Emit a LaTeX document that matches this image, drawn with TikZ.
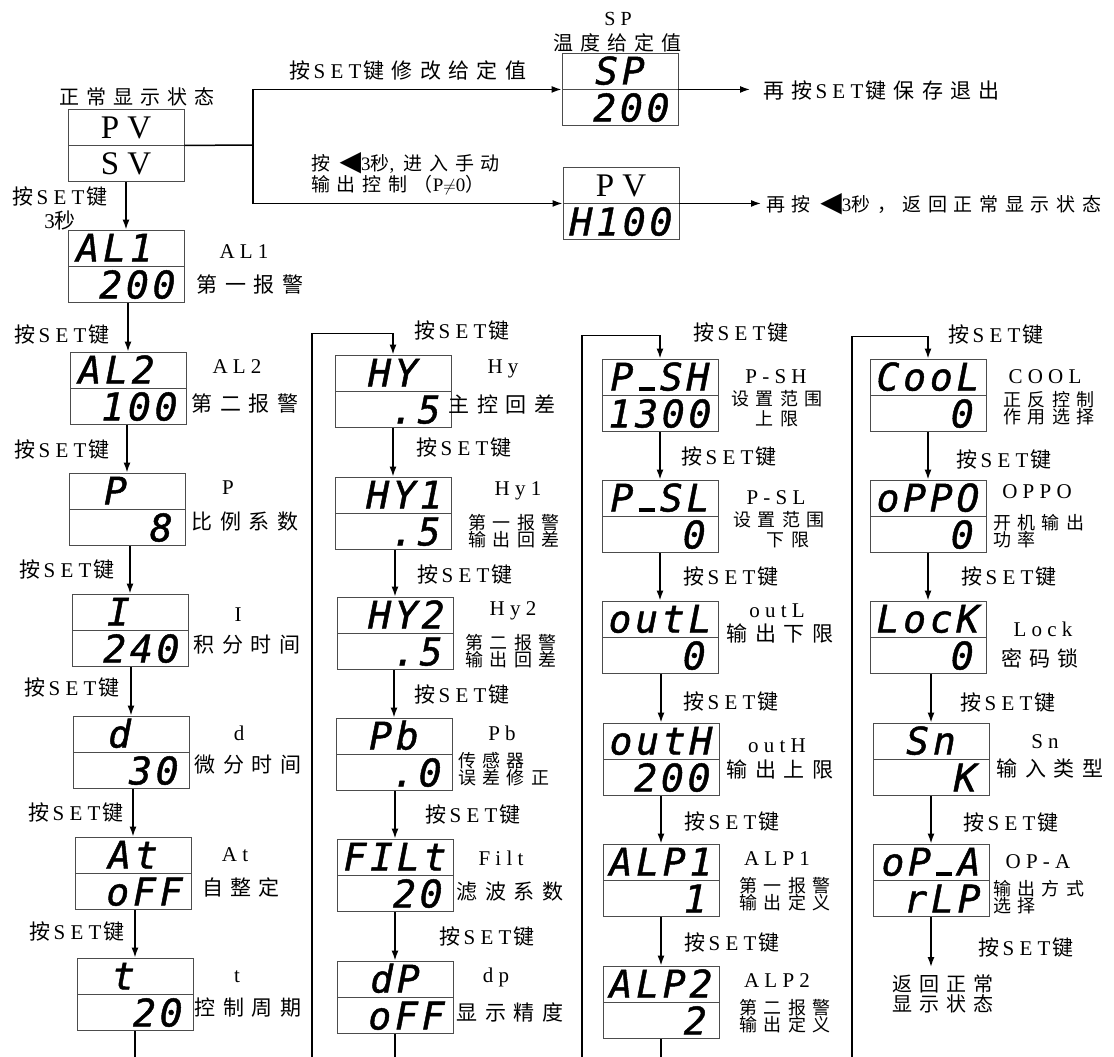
\documentclass[tikz,border=0pt]{standalone}
\usepackage{fontspec}
\setmainfont{Liberation Serif}[LetterSpace=25]
\newfontfamily\cjk{Noto Sans CJK SC}[LetterSpace=35]
\newfontfamily\segfont{DejaVu Sans Mono}[LetterSpace=10,FakeBold=1.2]
\newfontfamily\symfont{DejaVu Sans}
\usetikzlibrary{arrows.meta}
\newcommand\blank{\phantom{0}}
\newcommand\segbar{\makebox[0.7em][c]{\rule{0.42em}{0.1em}}}
\newcommand\tri{{\symfont\fontsize{28}{28}\selectfont ◀}}
\newcommand\anset{{\cjk 按}\hspace{3pt}SET\hspace{2pt}{\cjk 键}}
\tikzset{
  lcd/.style={draw=black!70, line width=0.9pt, minimum width=116pt, minimum height=36pt,
    inner sep=0pt, text height=27pt, text depth=0pt,
    font=\segfont\fontsize{38}{38}\selectfont\itshape},
  lcdtxt/.style={lcd, text height=22pt, font=\fontsize{33}{33}\selectfont},
  key/.style={font=\fontsize{21}{24}\selectfont, inner sep=1pt},
  lbl/.style={font=\fontsize{21}{22}\selectfont, inner sep=0pt},
  small/.style={font=\fontsize{18}{17}\selectfont, inner sep=0pt, align=center},
  wire/.style={line width=1.5pt}
}
\begin{document}
\begin{tikzpicture}[x=1pt,y=-1pt,>={Latex[length=10pt,width=7pt]}]
\useasboundingbox (0,0) rectangle (1114,1057);

% normal display and the two short paths
\node[lcdtxt] (nrm) at (126,127) {PV};
\node[lcdtxt,anchor=north] (nrmv) at (nrm.south) {SV};
\node[lbl,font=\fontsize{20}{22}\selectfont] (tnrm) at (137,97) {\cjk 正常显示状态};
\coordinate (fork) at (253,145);
\draw[wire] (nrm.south east) -- (fork);

\node[lcd] (sp) at (620,71) {\blank SP\blank};
\node[lcd,anchor=north] (spv) at (sp.south) {\blank200};
\node[lbl,text height=14pt,text depth=0pt,font=\fontsize{20}{20}\selectfont] (tsp) at (618,19) {SP};
\node[lbl,font=\fontsize{20}{20}\selectfont,text height=16pt,text depth=2pt] (tspd) at (617,44) {\cjk 温度给定值};
\node[lbl] (tmod) at (408,70) {{\cjk 按}\hspace{3pt}SET\hspace{2pt}{\cjk 键修改给定值}};
\node[lbl,anchor=west] (tsave) at (763,91) {{\cjk 再按}\hspace{3pt}SET\hspace{2pt}{\cjk 键保存退出}};
\draw[wire,->] (fork) |- (sp.south west);
\draw[wire,->,shorten >=13pt] (sp.south east) -- (sp.south east -| tsave.west);

\node[lcdtxt] (man) at (621,185) {PV};
\node[lcd,anchor=north] (manv) at (man.south) {H100};
\node[small,align=left,anchor=west,font=\fontsize{19}{17}\selectfont] (tman) at (311,174)
  {{\cjk 按}\ \tri 3{\cjk 秒}, {\cjk 进入手动}\\{\cjk 输出控制（}P$\neq$0{\cjk ）}};
\node[lbl,anchor=west,font=\fontsize{19}{19}\selectfont] (tback) at (766,204)
  {{\cjk 再按}\ \tri 3{\cjk 秒，返回正常显示状态}};
\draw[wire,->] (fork) |- (man.south west);
\draw[wire,->,shorten >=5pt] (man.south east) -- (man.south east -| tback.west);

% column 1
\node[key,align=center] (k0) at (60,208) {\anset\\3{\cjk 秒}};
\node[lcd] (al1) at (126,248) {AL1\blank};
\node[lcd,anchor=north] (al1v) at (al1.south) {\blank200};
\node[lbl] (al1n) at (244,252) {AL1};
\node[lbl] (al1d) at (250,284) {\cjk 第一报警};
\node[lcd] (al2) at (128,370) {AL2\blank};
\node[lcd,anchor=north] (al2v) at (al2.south) {\blank100};
\node[lbl] (al2n) at (237,367) {AL2};
\node[lbl] (al2d) at (245,403) {\cjk 第二报警};
\node[lcd] (p) at (127,491) {\blank P\blank\blank};
\node[lcd,anchor=north] (pv) at (p.south) {\blank\blank\blank8};
\node[lbl] (pn) at (228,488) {P};
\node[lbl] (pd) at (245,522) {\cjk 比例系数};
\node[lcd] (i) at (130,612) {\blank I\blank\blank};
\node[lcd,anchor=north] (iv) at (i.south) {\blank240};
\node[lbl] (in) at (238,615) {I};
\node[lbl] (id) at (247,645) {\cjk 积分时间};
\node[lcd] (d) at (131,734) {\blank d\blank\blank};
\node[lcd,anchor=north] (dv) at (d.south) {\blank\blank30};
\node[lbl] (dn) at (239,733) {d};
\node[lbl] (dd) at (248,765) {\cjk 微分时间};
\node[lcd] (at) at (133,855) {\blank At\blank};
\node[lcd,anchor=north] (atv) at (at.south) {\blank oFF};
\node[lbl] (atn) at (235,855) {At};
\node[lbl] (atd) at (241,887) {\cjk 自整定};
\node[lcd] (t) at (135,976) {\blank t\blank\blank};
\node[lcd,anchor=north] (tv) at (t.south) {\blank\blank20};
\node[lbl] (tn) at (237,977) {t};
\node[lbl] (td) at (248,1008) {\cjk 控制周期};
\node[key] (k1) at (62,335) {\anset};
\node[key] (k2) at (62,450) {\anset};
\node[key] (k3) at (67,570) {\anset};
\node[key] (k4) at (72,688) {\anset};
\node[key] (k5) at (76,813) {\anset};
\node[key] (k6) at (77,932) {\anset};
\draw[wire,->] (nrmv.south) -- (nrmv.south |- al1.north);
\draw[wire,->] (al2.north |- al1v.south) -- (al2.north);
\draw[wire,->] (p.north |- al2v.south) -- (p.north);
\draw[wire,->] (i.north |- pv.south) -- (i.north);
\draw[wire,->] (d.north |- iv.south) -- (d.north);
\draw[wire,->] (at.north |- dv.south) -- (at.north);
\draw[wire,->] (t.north |- atv.south) -- (t.north);
\coordinate (e1) at (135,1057);
\draw[wire] (tv.south) -- (e1);

% column 2
\node[lcd] (hy) at (393,373) {\blank HY\blank};
\node[lcd,anchor=north] (hyv) at (hy.south) {\blank\blank.5};
\node[lbl] (hyn) at (503,369) {Hy};
\node[lbl] (hyd) at (502,404) {\cjk 主控回差};
\node[lcd] (hy1) at (393,495) {\blank HY1};
\node[lcd,anchor=north] (hy1v) at (hy1.south) {\blank\blank.5};
\node[lbl] (hy1n) at (518,491) {Hy1};
\node[small] (hy1d) at (514,531) {\cjk 第一报警\\\cjk 输出回差};
\node[lcd] (hy2) at (395,615) {\blank HY2};
\node[lcd,anchor=north] (hy2v) at (hy2.south) {\blank\blank.5};
\node[lbl] (hy2n) at (513,611) {Hy2};
\node[small] (hy2d) at (511,651) {\cjk 第二报警\\\cjk 输出回差};
\node[lcd] (pb) at (394,736) {\blank Pb\blank};
\node[lcd,anchor=north] (pbv) at (pb.south) {\blank\blank.0};
\node[lbl] (pbn) at (502,733) {Pb};
\node[small,align=left,anchor=west] (pbd) at (458,769) {\cjk 传感器\\\cjk 误差修正};
\node[lcd] (filt) at (395,857) {FILt};
\node[lcd,anchor=north] (filtv) at (filt.south) {\blank\blank20};
\node[lbl] (filtn) at (501,858) {Filt};
\node[lbl] (filtd) at (510,892) {\cjk 滤波系数};
\node[lcd] (dp) at (395,979) {\blank dP\blank};
\node[lcd,anchor=north] (dpv) at (dp.south) {\blank oFF};
\node[lbl] (dpn) at (496,977) {dp};
\node[lbl] (dpd) at (510,1012) {\cjk 显示精度};
\node[key] (k7) at (462,331) {\anset};
\node[key] (k8) at (464,448) {\anset};
\node[key] (k9) at (465,575) {\anset};
\node[key] (k10) at (462,695) {\anset};
\node[key] (k11) at (473,815) {\anset};
\node[key] (k12) at (487,937) {\anset};
\coordinate (l2) at (312,1057);
\draw[wire,->] (l2) |- ([yshift=21pt]hy.north) -- (hy.north);
\draw[wire,->] (hy1.north |- hyv.south) -- (hy1.north);
\draw[wire,->] (hy2.north |- hy1v.south) -- (hy2.north);
\draw[wire,->] (pb.north |- hy2v.south) -- (pb.north);
\draw[wire,->] (filt.north |- pbv.south) -- (filt.north);
\draw[wire,->] (dp.north |- filtv.south) -- (dp.north);
\coordinate (e2) at (395,1057);
\draw[wire] (dpv.south) -- (e2);

% column 3
\node[lcd] (psh) at (660,377) {P\segbar SH};
\node[lcd,anchor=north] (pshv) at (psh.south) {1300};
\node[lbl] (pshn) at (776,377) {P-SH};
\node[small] (pshd) at (777,409) {\cjk 设置范围\\[3pt]\cjk 上限};
\node[lcd] (psl) at (660,498) {P\segbar SL};
\node[lcd,anchor=north] (pslv) at (psl.south) {\blank\blank\blank0};
\node[lbl] (psln) at (776,498) {P-SL};
\node[small] (psld) at (779,530) {\cjk 设置范围\\[3pt]\hspace{18pt}\cjk 下限};
\node[lcd] (outl) at (660,619) {outL};
\node[lcd,anchor=north] (outlv) at (outl.south) {\blank\blank\blank0};
\node[lbl] (outln) at (777,611) {outL};
\node[lbl] (outld) at (780,633) {\cjk 输出下限};
\node[lcd] (outh) at (661,741) {outH};
\node[lcd,anchor=north] (outhv) at (outh.south) {\blank200};
\node[lbl] (outhn) at (777,746) {outH};
\node[lbl] (outhd) at (780,769) {\cjk 输出上限};
\node[lcd] (alp1) at (661,862) {ALP1};
\node[lcd,anchor=north] (alp1v) at (alp1.south) {\blank\blank\blank1};
\node[lbl] (alp1n) at (777,859) {ALP1};
\node[small] (alp1d) at (785,894) {\cjk 第一报警\\\cjk 输出定义};
\node[lcd] (alp2) at (661,984) {ALP2};
\node[lcd,anchor=north] (alp2v) at (alp2.south) {\blank\blank\blank2};
\node[lbl] (alp2n) at (777,981) {ALP2};
\node[small] (alp2d) at (785,1016) {\cjk 第二报警\\\cjk 输出定义};
\node[key] (k13) at (741,333) {\anset};
\node[key] (k14) at (729,457) {\anset};
\node[key] (k15) at (731,577) {\anset};
\node[key] (k16) at (731,702) {\anset};
\node[key] (k17) at (732,822) {\anset};
\node[key] (k18) at (732,943) {\anset};
\coordinate (l3) at (582,1057);
\draw[wire,->] (l3) |- ([yshift=23pt]psh.north) -- (psh.north);
\draw[wire,->] (psl.north |- pshv.south) -- (psl.north);
\draw[wire,->] (outl.north |- pslv.south) -- (outl.north);
\draw[wire,->] (outh.north |- outlv.south) -- (outh.north);
\draw[wire,->] (alp1.north |- outhv.south) -- (alp1.north);
\draw[wire,->] (alp2.north |- alp1v.south) -- (alp2.north);
\coordinate (e3) at (661,1057);
\draw[wire] (alp2v.south) -- (e3);

% column 4
\node[lcd] (cool) at (928,377) {CooL};
\node[lcd,anchor=north] (coolv) at (cool.south) {\blank\blank\blank0};
\node[lbl] (cooln) at (1045,377) {COOL};
\node[small] (coold) at (1049,408) {\cjk 正反控制\\\cjk 作用选择};
\node[lcd] (oppo) at (928,498) {oPPO};
\node[lcd,anchor=north] (oppov) at (oppo.south) {\blank\blank\blank0};
\node[lbl] (oppon) at (1037,492) {OPPO};
\node[small,align=left,anchor=west] (oppod) at (993,531) {\cjk 开机输出\\\cjk 功率};
\node[lcd] (lock) at (928,619) {LocK};
\node[lcd,anchor=north] (lockv) at (lock.south) {\blank\blank\blank0};
\node[lbl] (lockn) at (1043,629) {Lock};
\node[lbl] (lockd) at (1040,658) {\cjk 密码锁};
\node[lcd] (sn) at (931,741) {\blank Sn\blank};
\node[lcd,anchor=north] (snv) at (sn.south) {\blank\blank\blank K};
\node[lbl] (snn) at (1045,742) {Sn};
\node[lbl] (snd) at (1050,768) {\cjk 输入类型};
\node[lcd] (opa) at (931,862) {oP\segbar A};
\node[lcd,anchor=north] (opav) at (opa.south) {\blank rLP};
\node[lbl] (opan) at (1038,862) {OP-A};
\node[small,align=left,anchor=west] (opad) at (993,897) {\cjk 输出方式\\\cjk 选择};
\node[lbl,align=left,anchor=north,font=\fontsize{20}{20}\selectfont] (ret) at (943,974) {\cjk 返回正常\\\cjk 显示状态};
\node[key] (k19) at (996,335) {\anset};
\node[key] (k20) at (1004,460) {\anset};
\node[key] (k21) at (1009,577) {\anset};
\node[key] (k22) at (1008,703) {\anset};
\node[key] (k23) at (1011,823) {\anset};
\node[key] (k24) at (1026,948) {\anset};
\coordinate (l4) at (852,1057);
\draw[wire,->] (l4) |- ([yshift=22pt]cool.north) -- (cool.north);
\draw[wire,->] (oppo.north |- coolv.south) -- (oppo.north);
\draw[wire,->] (lock.north |- oppov.south) -- (lock.north);
\draw[wire,->] (sn.north |- lockv.south) -- (sn.north);
\draw[wire,->] (opa.north |- snv.south) -- (opa.north);
\draw[wire,->,shorten >=7pt] (opav.south) -- (opav.south |- ret.north);
\end{tikzpicture}
\end{document}
